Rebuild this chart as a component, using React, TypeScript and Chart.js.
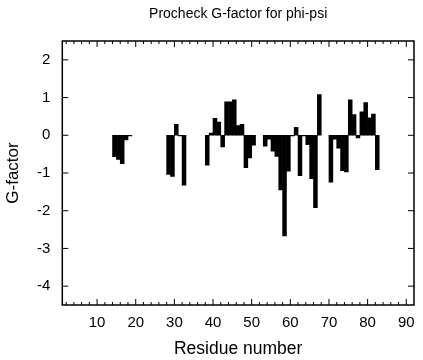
import React, { useEffect, useRef } from "react";
import { Chart, registerables } from "chart.js";

Chart.register(...registerables);

// Residue numbers (left edge of each box) and their Procheck G-factor (phi-psi)
const residues = [
  14, 15, 16, 17, 18,
  28, 29, 30, 31, 32,
  38, 39, 40, 41, 42, 43, 44, 45, 46, 47, 48, 49, 50,
  53, 54, 55, 56, 57, 58, 59, 60, 61, 62, 63, 64, 65, 66, 67,
  70, 71, 72, 73, 74, 75, 76, 77, 78, 79, 80, 81, 82,
];
const gFactor = [
  -0.57, -0.64, -0.75, -0.12, -0.02,
  -1.04, -1.09, 0.29, -0.02, -1.32,
  -0.79, 0.06, 0.45, 0.35, -0.31, 0.89, 0.89, 0.94, 0.26, 0.29, -0.86, -0.6, -0.26,
  -0.29, -0.1, -0.42, -0.56, -1.45, -2.67, -0.95, -0.02, 0.21, -1.07, -0.02, -0.25, -1.15, -1.92, 1.08,
  -1.24, -0.1, -0.34, -0.94, -0.97, 0.94, 0.55, -0.07, 0.62, 0.87, 0.46, 0.56, -0.91,
];
const xTicks = [10, 20, 30, 40, 50, 60, 70, 80, 90];
const xMinorTicks = [2, 4, 6, 8, 12, 14, 16, 18, 22, 24, 26, 28, 32, 34, 36, 38, 42, 44, 46, 48, 52, 54, 56, 58, 62, 64, 66, 68, 72, 74, 76, 78, 82, 84, 86, 88];
const yTicks = [-4, -3, -2, -1, 0, 1, 2];

const FONT = "'Liberation Sans', Arial, Helvetica, sans-serif";

const frameTicks = {
  id: "frameTicks",
  afterDatasetsDraw(chart: any) {
    const { ctx, chartArea, scales } = chart;
    const { left, right, top, bottom } = chartArea;
    const x = scales.x;
    const y = scales.y;
    ctx.save();
    ctx.strokeStyle = "#000";
    ctx.lineWidth = 1;
    ctx.beginPath();
    const vTick = (v: number, len: number) => {
      const px = x.getPixelForValue(v);
      if (px < left || px > right) return;
      ctx.moveTo(px, bottom);
      ctx.lineTo(px, bottom - len);
      ctx.moveTo(px, top);
      ctx.lineTo(px, top + len);
    };
    xTicks.forEach((v) => vTick(v, 6));
    xMinorTicks.forEach((v) => vTick(v, 3));
    yTicks.forEach((v) => {
      const py = y.getPixelForValue(v);
      ctx.moveTo(left, py);
      ctx.lineTo(left + 6, py);
      ctx.moveTo(right, py);
      ctx.lineTo(right - 6, py);
    });
    ctx.stroke();
    ctx.lineWidth = 1.5;
    ctx.strokeRect(left, top, right - left, bottom - top);
    ctx.restore();
  },
};

export default function App() {
  const ref = useRef<HTMLCanvasElement | null>(null);

  useEffect(() => {
    document.body.style.margin = "0";
    const canvas = ref.current;
    if (!canvas) return;
    const chart = new Chart(canvas, {
      type: "bar",
      data: {
        datasets: [
          {
            data: residues.map((r, i) => ({ x: r + 0.5, y: gFactor[i] })),
            backgroundColor: "#000",
            borderWidth: 0,
            barPercentage: 1,
            categoryPercentage: 1,
          },
        ],
      },
      options: {
        responsive: false,
        animation: false,
        events: [],
        layout: { padding: { top: 0, right: 9, left: 0, bottom: 0 } },
        plugins: {
          legend: { display: false },
          tooltip: { enabled: false },
          title: {
            display: true,
            fullSize: false,
            text: "Procheck G-factor for phi-psi",
            color: "#000",
            font: { family: FONT, size: 14, weight: "normal", lineHeight: 1.2 },
            padding: { top: 6, bottom: 18.2 },
          },
        },
        scales: {
          x: {
            type: "linear",
            offset: false,
            min: 1,
            max: 92,
            grid: { display: false, drawTicks: false, offset: false },
            border: { display: false },
            afterBuildTicks: (s: any) => {
              s.ticks = xTicks.map((v) => ({ value: v }));
            },
            ticks: {
              color: "#000",
              font: { family: FONT, size: 15, lineHeight: 2.4 },
              padding: 0,
              maxRotation: 0,
              autoSkip: false,
            },
            title: {
              display: true,
              text: "Residue number",
              color: "#000",
              font: { family: FONT, size: 17.5, lineHeight: 1.2 },
              padding: { top: 0, bottom: 0 },
            },
            afterFit: (s: any) => {
              s.height = 55;
            },
          },
          y: {
            type: "linear",
            min: -4.5,
            max: 2.5,
            grid: { display: false, drawTicks: false },
            border: { display: false },
            afterBuildTicks: (s: any) => {
              s.ticks = yTicks.map((v) => ({ value: v }));
            },
            ticks: {
              color: "#000",
              font: { family: FONT, size: 15 },
              padding: 12,
            },
            title: {
              display: true,
              text: "G-factor",
              color: "#000",
              font: { family: FONT, size: 17, lineHeight: 1.2 },
              padding: { top: 3, bottom: 0 },
            },
            afterFit: (s: any) => {
              s.width = 62.3;
            },
          },
        },
      } as any,
      plugins: [frameTicks],
    });
    return () => chart.destroy();
  }, []);

  return (
    <div style={{ width: 423, height: 360 }}>
      <canvas ref={ref} width={423} height={360} style={{ display: "block" }} />
    </div>
  );
}
